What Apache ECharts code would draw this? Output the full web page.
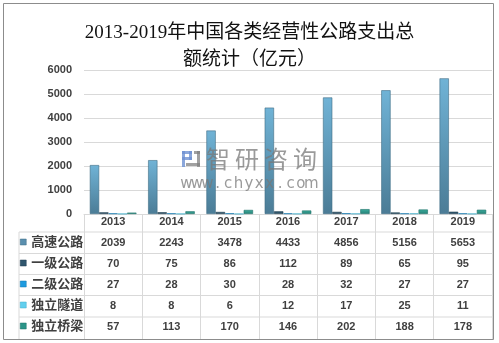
<!DOCTYPE html>
<html>
<head>
<meta charset="utf-8">
<script src="https://cdn.jsdelivr.net/npm/echarts@6/dist/echarts.min.js"></script>
<style>
html, body { margin: 0; padding: 0; background: #fff; }
#chart { width: 499px; height: 343px; }
</style>
</head>
<body>
<div id="chart"></div>
<script>
// Yearly spending on toll roads by road class (100 million yuan)
const years = ['2013', '2014', '2015', '2016', '2017', '2018', '2019'];
const expressway = [2039, 2243, 3478, 4433, 4856, 5156, 5653];
const classOne = [70, 75, 86, 112, 89, 65, 95];
const classTwo = [27, 28, 30, 28, 32, 27, 27];
const tunnels = [8, 8, 6, 12, 17, 25, 11];
const bridges = [57, 113, 170, 146, 202, 188, 178];
const seriesNames = ['高速公路', '一级公路', '二级公路', '独立隧道', '独立桥梁'];
const yMax = 6000;
const yStep = 1000;

const seriesValues = [expressway, classOne, classTwo, tunnels, bridges];
const seriesColors = [
  { top: '#70b3d6', bottom: '#4b7c96', edge: '#3f6d85', legend: '#5a8fae' },
  { top: '#35607a', bottom: '#284a5e', edge: '#213f50', legend: '#2f566d' },
  { top: '#2aa6e2', bottom: '#1784c0', edge: '#1579ae', legend: '#1e9be0' },
  { top: '#72d6f0', bottom: '#4fbfdc', edge: '#45afca', legend: '#62cfee' },
  { top: '#3cae9f', bottom: '#257f75', edge: '#1f7068', legend: '#2b9488' }
];

const chart = echarts.init(document.getElementById('chart'), null, { renderer: 'canvas' });

const tableFont = 'Liberation Sans, Noto Sans CJK SC, sans-serif';
const gridLeft = 84, gridRight = 492, gridTop = 70, axisY = 214;
const tableLineColor = '#d9d9d9';

// Horizontal rules of the data table beneath the plot
const rowLines = [232, 253.5, 274.5, 295.5, 317];
const tableGraphics = rowLines.map(y => ({
  type: 'line', silent: true,
  shape: { x1: 19, y1: y, x2: gridRight, y2: y },
  style: { stroke: tableLineColor, lineWidth: 1 }
}));
tableGraphics.push({
  type: 'line', silent: true,
  shape: { x1: 19, y1: 232, x2: 19, y2: 339 },
  style: { stroke: tableLineColor, lineWidth: 1 }
});

// Outer frame
const frame = {
  type: 'rect', silent: true, z: 100,
  shape: { x: 3.5, y: 3.5, width: 490, height: 336 },
  style: { fill: 'none', stroke: '#8c8c8c', lineWidth: 1 }
};

// Publisher mark in the middle of the plot
const markColor = 'rgba(120,120,120,0.75)';
const markGraphics = [];
const brand = '智研咨询';
for (let i = 0; i < brand.length; i++) {
  markGraphics.push({
    type: 'text', silent: true, z: 50,
    style: {
      text: brand[i], x: 218 + i * 29, y: 159,
      fill: markColor, font: '24px "Noto Sans CJK SC", sans-serif',
      textAlign: 'center', textVerticalAlign: 'middle'
    }
  });
}
const site = 'www.chyxx.com';
for (let i = 0; i < site.length; i++) {
  markGraphics.push({
    type: 'text', silent: true, z: 50,
    style: {
      text: site[i], x: 186.5 + i * 10.4, y: 184,
      fill: markColor, font: '15px "DejaVu Sans", sans-serif',
      textAlign: 'center', textVerticalAlign: 'middle'
    }
  });
}
const logoBlue = 'rgba(110,145,210,0.8)';
const logoGray = 'rgba(130,130,130,0.75)';
[
  [182, 151, 10, 3, logoBlue], [182, 151, 3, 16, logoBlue], [189, 151, 3, 9, logoBlue],
  [182, 157, 10, 3, logoBlue], [194, 151, 6, 3, logoGray], [197, 151, 3, 16, logoGray],
  [186, 163, 14, 3, logoGray]
].forEach(r => markGraphics.push({
  type: 'rect', silent: true, z: 50,
  shape: { x: r[0], y: r[1], width: r[2], height: r[3] },
  style: { fill: r[4] }
}));

const option = {
  animation: false,
  backgroundColor: '#fff',
  title: {
    text: '2013-2019年中国各类经营性公路支出总\n额统计（亿元）',
    left: 'center', top: 15,
    textStyle: {
      fontFamily: 'Liberation Serif, Noto Sans CJK SC, serif',
      fontSize: 19, fontWeight: 'normal', color: '#111', lineHeight: 27
    }
  },
  legend: {
    orient: 'vertical', left: 20, top: 231.5, padding: 0, height: 110,
    itemWidth: 6, itemHeight: 6, itemGap: 0, icon: 'rect',
    selectedMode: false,
    textStyle: { fontFamily: tableFont, fontSize: 13, color: '#404040', lineHeight: 21, fontWeight: 'bold' },
    data: seriesNames.map((n, i) => ({
      name: n,
      itemStyle: { color: seriesColors[i].legend, borderColor: seriesColors[i].edge, borderWidth: 0.5 }
    }))
  },
  grid: { left: gridLeft, right: 499 - gridRight, top: gridTop, bottom: 343 - axisY },
  xAxis: {
    type: 'category', data: years,
    axisLine: { show: true, lineStyle: { color: tableLineColor } },
    axisTick: { show: true, length: 125, lineStyle: { color: tableLineColor } },
    axisLabel: {
      margin: -3,
      fontFamily: tableFont, fontSize: 11, color: '#404040', lineHeight: 21,
      fontWeight: 'bold',
      formatter: (value, idx) => [value].concat(seriesValues.map(v => v[idx])).join('\n')
    }
  },
  yAxis: {
    type: 'value', min: 0, max: yMax, interval: yStep,
    axisLine: { show: false }, axisTick: { show: false },
    splitLine: { lineStyle: { color: tableLineColor } },
    axisLabel: {
      margin: 12, fontFamily: tableFont, fontSize: 11, color: '#404040', fontWeight: 'bold',
      formatter: v => String(v)
    }
  },
  series: seriesNames.map((name, i) => ({
    name, type: 'bar',
    data: seriesValues[i],
    barGap: '0%', barCategoryGap: '20%',
    itemStyle: {
      color: new echarts.graphic.LinearGradient(0, 0, 0, 1, [
        { offset: 0, color: seriesColors[i].top },
        { offset: 1, color: seriesColors[i].bottom }
      ]),
      borderColor: seriesColors[i].edge, borderWidth: 0.6
    }
  })),
  graphic: { elements: tableGraphics.concat(markGraphics, [frame]) }
};

chart.setOption(option);
</script>
</body>
</html>
